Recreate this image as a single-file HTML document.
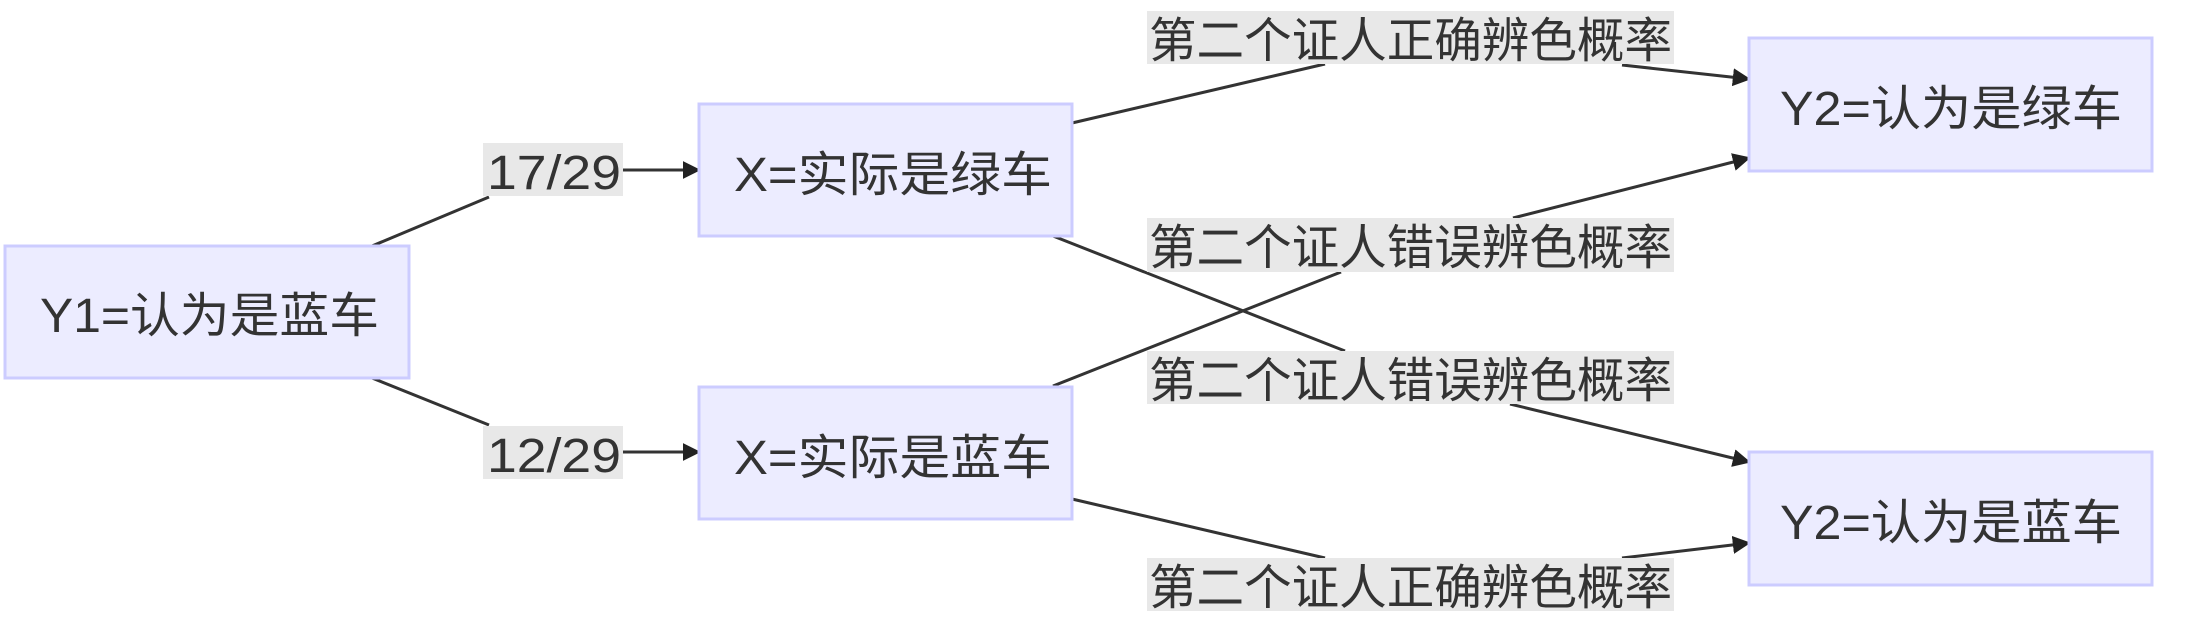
<!DOCTYPE html>
<html><head><meta charset="utf-8"><style>
html,body{margin:0;padding:0;background:#fff;}
svg{display:block;}
text{font-family:"Liberation Sans","Noto Sans CJK SC",sans-serif;fill:#333;font-size:48px;}
</style></head><body>
<svg width="2185" height="619" viewBox="0 0 2185 619" xmlns="http://www.w3.org/2000/svg">
<defs>
<marker id="b" viewBox="0 0 10 10" refX="9" refY="5" markerWidth="18" markerHeight="18" markerUnits="userSpaceOnUse" orient="auto"><path d="M0,0L10,5L0,10z" fill="#222"/></marker></defs>
<g stroke="#333" stroke-width="3" fill="none">
<line x1="372" y1="246" x2="489" y2="197"/>
<line x1="372" y1="378" x2="489" y2="425"/>
<line x1="623" y1="170" x2="699" y2="170" marker-end="url(#b)"/>
<line x1="623" y1="452" x2="699" y2="452" marker-end="url(#b)"/>
<line x1="1072" y1="123" x2="1325" y2="64"/>
<line x1="1622" y1="65" x2="1749" y2="79" marker-end="url(#b)"/>
<line x1="1053" y1="236" x2="1345" y2="351"/>
<line x1="1510" y1="404" x2="1749" y2="462" marker-end="url(#b)"/>
<line x1="1053" y1="386" x2="1341" y2="272"/>
<line x1="1513" y1="218" x2="1749" y2="158" marker-end="url(#b)"/>
<line x1="1072" y1="499" x2="1325" y2="558"/>
<line x1="1622" y1="558" x2="1749" y2="543" marker-end="url(#b)"/>
</g>
<g fill="#ECECFF" stroke="#ccccff" stroke-width="3">
<rect x="5" y="246" width="404" height="132"/>
<rect x="699" y="104" width="373" height="132"/>
<rect x="699" y="387" width="373" height="132"/>
<rect x="1749" y="38" width="403" height="133"/>
<rect x="1749" y="452" width="403" height="133"/>
</g>
<g fill="#e8e8e8">
<rect x="483" y="143" width="140" height="53"/>
<rect x="483" y="426" width="140" height="53"/>
<rect x="1147" y="11" width="527" height="53"/>
<rect x="1147" y="218" width="527" height="54"/>
<rect x="1147" y="351" width="527" height="53"/>
<rect x="1147" y="558" width="527" height="53"/>
</g>
<text x="40" y="332" textLength="339" lengthAdjust="spacingAndGlyphs">Y1=认为是蓝车</text>
<text x="734" y="191" textLength="318" lengthAdjust="spacingAndGlyphs">X=实际是绿车</text>
<text x="734" y="474" textLength="318" lengthAdjust="spacingAndGlyphs">X=实际是蓝车</text>
<text x="1780" y="125" textLength="342" lengthAdjust="spacingAndGlyphs">Y2=认为是绿车</text>
<text x="1780" y="539" textLength="342" lengthAdjust="spacingAndGlyphs">Y2=认为是蓝车</text>
<text x="487" y="189" textLength="134" lengthAdjust="spacingAndGlyphs">17/29</text>
<text x="487" y="472" textLength="134" lengthAdjust="spacingAndGlyphs">12/29</text>
<text x="1149" y="57" textLength="523" lengthAdjust="spacingAndGlyphs">第二个证人正确辨色概率</text>
<text x="1149" y="264" textLength="523" lengthAdjust="spacingAndGlyphs">第二个证人错误辨色概率</text>
<text x="1149" y="397" textLength="523" lengthAdjust="spacingAndGlyphs">第二个证人错误辨色概率</text>
<text x="1149" y="604" textLength="523" lengthAdjust="spacingAndGlyphs">第二个证人正确辨色概率</text>
</svg>
</body></html>
